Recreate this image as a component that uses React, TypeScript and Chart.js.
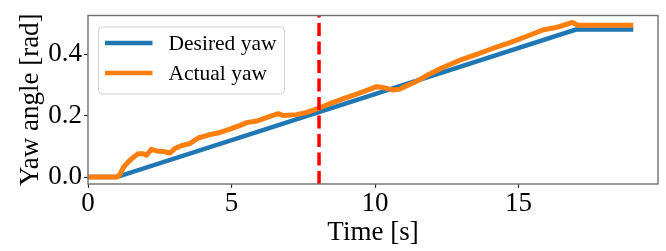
import React, { useEffect, useRef } from "react";
import { Chart, registerables } from "chart.js";

Chart.register(...registerables);

// ---- data ----
const desiredTime = [0, 1, 17, 19];
const desiredYaw = [0, 0, 0.48, 0.48];

const actualTime = [
  0, 1.0, 1.11, 1.23, 1.41, 1.58, 1.75, 1.93, 2.04, 2.21,
  2.39, 2.62, 2.86, 3.03, 3.26, 3.55, 3.84, 4.25, 4.6, 4.95,
  5.3, 5.53, 5.88, 6.34, 6.63, 6.8, 7.27, 7.62, 8.03, 8.43,
  8.9, 9.36, 9.83, 10.06, 10.29, 10.64, 10.87, 11.22, 11.51, 11.8,
  12.38, 12.96, 13.54, 14.12, 14.7, 15.29, 15.87, 16.33, 16.68, 16.87,
  17.08, 19.0,
];
const actualYaw = [
  0, 0, 0.008, 0.031, 0.05, 0.064, 0.076, 0.076, 0.071, 0.09,
  0.085, 0.083, 0.078, 0.093, 0.102, 0.109, 0.127, 0.138, 0.145, 0.156,
  0.168, 0.177, 0.182, 0.197, 0.206, 0.2, 0.203, 0.21, 0.223, 0.239,
  0.255, 0.27, 0.286, 0.294, 0.291, 0.283, 0.286, 0.302, 0.314, 0.33,
  0.357, 0.38, 0.399, 0.419, 0.437, 0.458, 0.479, 0.487, 0.497, 0.503,
  0.494, 0.494,
];

const xTicks = [0, 5, 10, 15];
const yTicks = [0, 0.2, 0.4];
const switchTime = 8.05;
const seriesLabels = ["Desired yaw", "Actual yaw"];

const BLUE = "#1f77b4";
const ORANGE = "#ff7f0e";
const FONT = "'Liberation Serif', 'Times New Roman', serif";

const frameAndMarkers = {
  id: "frameAndMarkers",
  afterDatasetsDraw(chart: any) {
    const { ctx, chartArea, scales } = chart;
    // red dashed vertical line
    const xp = scales.x.getPixelForValue(switchTime);
    ctx.save();
    ctx.strokeStyle = "#ff0000";
    ctx.lineWidth = 3.5;
    ctx.setLineDash([13, 5.5]);
    ctx.beginPath();
    ctx.moveTo(xp, chartArea.bottom);
    ctx.lineTo(xp, chartArea.top);
    ctx.stroke();
    ctx.restore();
    // spines
    ctx.save();
    ctx.strokeStyle = "#6e6e6e";
    ctx.lineWidth = 1.4;
    ctx.strokeRect(
      chartArea.left,
      chartArea.top,
      chartArea.right - chartArea.left,
      chartArea.bottom - chartArea.top
    );
    ctx.restore();
  },
  afterDraw(chart: any) {
    const { ctx, chartArea } = chart;
    const bx = chartArea.left + 10.5;
    const by = chartArea.top + 11.5;
    const bw = 186;
    const bh = 67;
    ctx.save();
    ctx.beginPath();
    (ctx as any).roundRect(bx, by, bw, bh, 4);
    ctx.fillStyle = "rgba(255,255,255,0.8)";
    ctx.fill();
    ctx.strokeStyle = "#d0d0d0";
    ctx.lineWidth = 1;
    ctx.stroke();
    const colors = [BLUE, ORANGE];
    ctx.font = `21.5px ${FONT}`;
    ctx.textBaseline = "middle";
    ctx.textAlign = "left";
    seriesLabels.forEach((lab, i) => {
      const cy = by + 16 + i * 30;
      ctx.strokeStyle = colors[i];
      ctx.lineWidth = 4.5;
      ctx.beginPath();
      ctx.moveTo(bx + 6.5, cy);
      ctx.lineTo(bx + 54, cy);
      ctx.stroke();
      ctx.fillStyle = "#000";
      ctx.fillText(lab, bx + 70, cy + 1);
    });
    ctx.restore();
  },
};

export default function App() {
  const ref = useRef<HTMLCanvasElement>(null);

  useEffect(() => {
    if (!ref.current) return;
    const chart = new Chart(ref.current, {
      type: "line",
      data: {
        datasets: [
          {
            label: seriesLabels[0],
            data: desiredTime.map((t, i) => ({ x: t, y: desiredYaw[i] })),
            borderColor: BLUE,
            borderWidth: 4.5,
            pointRadius: 0,
            tension: 0,
            order: 2,
          },
          {
            label: seriesLabels[1],
            data: actualTime.map((t, i) => ({ x: t, y: actualYaw[i] })),
            borderColor: ORANGE,
            borderWidth: 5,
            pointRadius: 0,
            tension: 0,
            borderJoinStyle: "round",
            order: 1,
          },
        ],
      },
      options: {
        responsive: false,
        animation: false,
        devicePixelRatio: 1,
        layout: { padding: { left: 0, top: 8, right: 8, bottom: 0 } },
        plugins: {
          legend: { display: false },
          tooltip: { enabled: false },
        },
        scales: {
          x: {
            type: "linear",
            min: 0,
            max: 19.86,
            afterBuildTicks: (s: any) => {
              s.ticks = xTicks.map((v) => ({ value: v }));
            },
            afterFit: (s: any) => {
              s.height = 67;
            },
            grid: {
              drawOnChartArea: false,
              drawTicks: true,
              tickLength: 4,
              tickColor: "#333",
              tickWidth: 1.2,
            },
            border: { display: false },
            ticks: {
              color: "#000",
              padding: 2,
              font: { family: FONT, size: 27, lineHeight: 1 },
              callback: (v: any) => String(v),
            },
            title: {
              display: true,
              text: "Time [s]",
              color: "#000",
              font: { family: FONT, size: 27, lineHeight: 1.2 },
              padding: { top: 0, bottom: 2 },
            },
          },
          y: {
            type: "linear",
            min: -0.0227,
            max: 0.5255,
            afterBuildTicks: (s: any) => {
              s.ticks = yTicks.map((v) => ({ value: v }));
            },
            afterFit: (s: any) => {
              s.width = 88;
            },
            grid: {
              drawOnChartArea: false,
              drawTicks: true,
              tickLength: 4,
              tickColor: "#333",
              tickWidth: 1.2,
            },
            border: { display: false },
            ticks: {
              color: "#000",
              padding: 2,
              font: { family: FONT, size: 27, lineHeight: 1 },
              callback: (v: any) => Number(v).toFixed(1),
            },
            title: {
              display: true,
              text: "Yaw angle [rad]",
              color: "#000",
              font: { family: FONT, size: 27, lineHeight: 1.2 },
              padding: { top: 15, bottom: 0 },
            },
          },
        },
      },
      plugins: [frameAndMarkers],
    } as any);
    return () => chart.destroy();
  }, []);

  return (
    <div style={{ position: "absolute", left: 0, top: 0, width: 666, height: 251, background: "#fff" }}>
      <canvas ref={ref} width={666} height={251} />
    </div>
  );
}
